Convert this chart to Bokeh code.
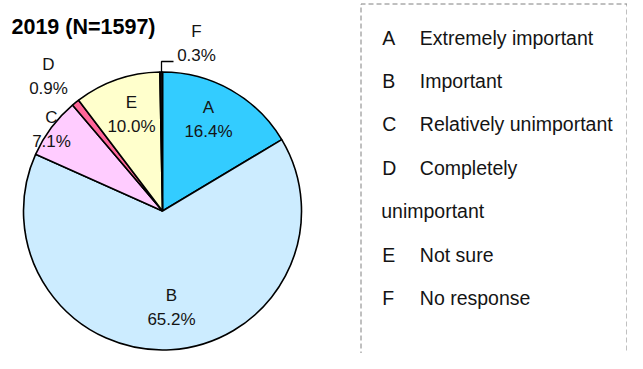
import math
from bokeh.plotting import figure
from bokeh.models import Range1d, ColumnDataSource
from bokeh.core.properties import value
from bokeh.embed import file_html
from bokeh.resources import INLINE

# ---- data ----
categories = ["A", "B", "C", "D", "E", "F"]
percents = [16.4, 65.2, 7.1, 0.9, 10.0, 0.3]
descriptions = ["Extremely important", "Important", "Relatively unimportant",
                "Completely unimportant", "Not sure", "No response"]
title_text = "2019 (N=1597)"

# ---- styles ----
colors = ["#33CCFF", "#CCECFF", "#FFCCFF", "#FF6699", "#FFFFCC", "#111111"]
FONT = "Liberation Sans"
TXT = "#141414"

W, H = 627, 353
OFF = 0
PAGE_H = 369

def Y(ys):       # screen y -> data y
    return PAGE_H - ys

p = figure(width=W, height=H, output_backend="svg", toolbar_location=None,
           x_range=Range1d(OFF, OFF + W), y_range=Range1d(Y(OFF + H), Y(OFF)),
           min_border=0)
p.axis.visible = False
p.grid.visible = False
p.outline_line_color = None
p.background_fill_color = "white"

# ---- pie ----
CX, CY, R = 162.0, 210.5, 139.0
total = sum(percents)
starts, ends = [], []
c = 0.0
for v in percents:
    starts.append(math.pi / 2 - 2 * math.pi * c / total)
    c += v
    ends.append(math.pi / 2 - 2 * math.pi * c / total)

src = ColumnDataSource(dict(x=[CX] * len(percents), y=[Y(CY)] * len(percents),
                            start=starts, end=ends, color=colors))
p.wedge(x="x", y="y", radius=R, start_angle="start", end_angle="end",
        direction="clock", fill_color="color", line_color="black",
        line_width=1.6, source=src)

# ---- pie labels (offsets from centre, screen px) ----
label_pos = [(46, -92), (9, 96.5), (-111, -82), (-114, -135), (-31, -97), (34, -168)]
for i, (cat, pct) in enumerate(zip(categories, percents)):
    dx, dy = label_pos[i]
    lx, ly = CX + dx, CY + dy
    p.text(x=[lx], y=[Y(ly - 12)], text=[cat], text_align="center",
           text_baseline="middle", text_font=value(FONT), text_font_size="17px",
           text_color=TXT)
    p.text(x=[lx], y=[Y(ly + 12)], text=[f"{pct:.1f}%"], text_align="center",
           text_baseline="middle", text_font=value(FONT), text_font_size="17px",
           text_color=TXT)

# leader line for F
top_x = CX - 1
p.line(x=[top_x, top_x, top_x + 12], y=[Y(CY - R + 0.5), Y(61), Y(61)],
       line_color="black", line_width=1.3)

# ---- title ----
p.text(x=[11], y=[Y(26.5)], text=[title_text], text_align="left",
       text_baseline="middle", text_font=value(FONT), text_font_size="21.5px",
       text_font_style="bold", text_color="black")

# ---- legend box ----
BL, BR, BT, BB = 360.5, 626.5, 3.5, 380
p.line(x=[BL, BL, BR, BR], y=[Y(BB), Y(BT), Y(BT), Y(BB)],
       line_color="#808080", line_width=1, line_dash="5 3")

rows = []
for cat, d in zip(categories, descriptions):
    if d == "Completely unimportant":
        rows.append((cat, "Completely", 419.3))
        rows.append(("", "unimportant", 380.7))
    else:
        rows.append((cat, d, 419.3))
ROW0, ROWSTEP = 37.0, 43.4
for k, (cat, d, tx) in enumerate(rows):
    yy = ROW0 + k * ROWSTEP
    if cat:
        p.text(x=[381.7], y=[Y(yy)], text=[cat], text_align="left",
               text_baseline="middle", text_font=value(FONT),
               text_font_size="19.5px", text_color=TXT)
    p.text(x=[tx], y=[Y(yy)], text=[d], text_align="left",
           text_baseline="middle", text_font=value(FONT),
           text_font_size="19.5px", text_color=TXT)

open("out.html", "w").write(file_html(p, INLINE))
